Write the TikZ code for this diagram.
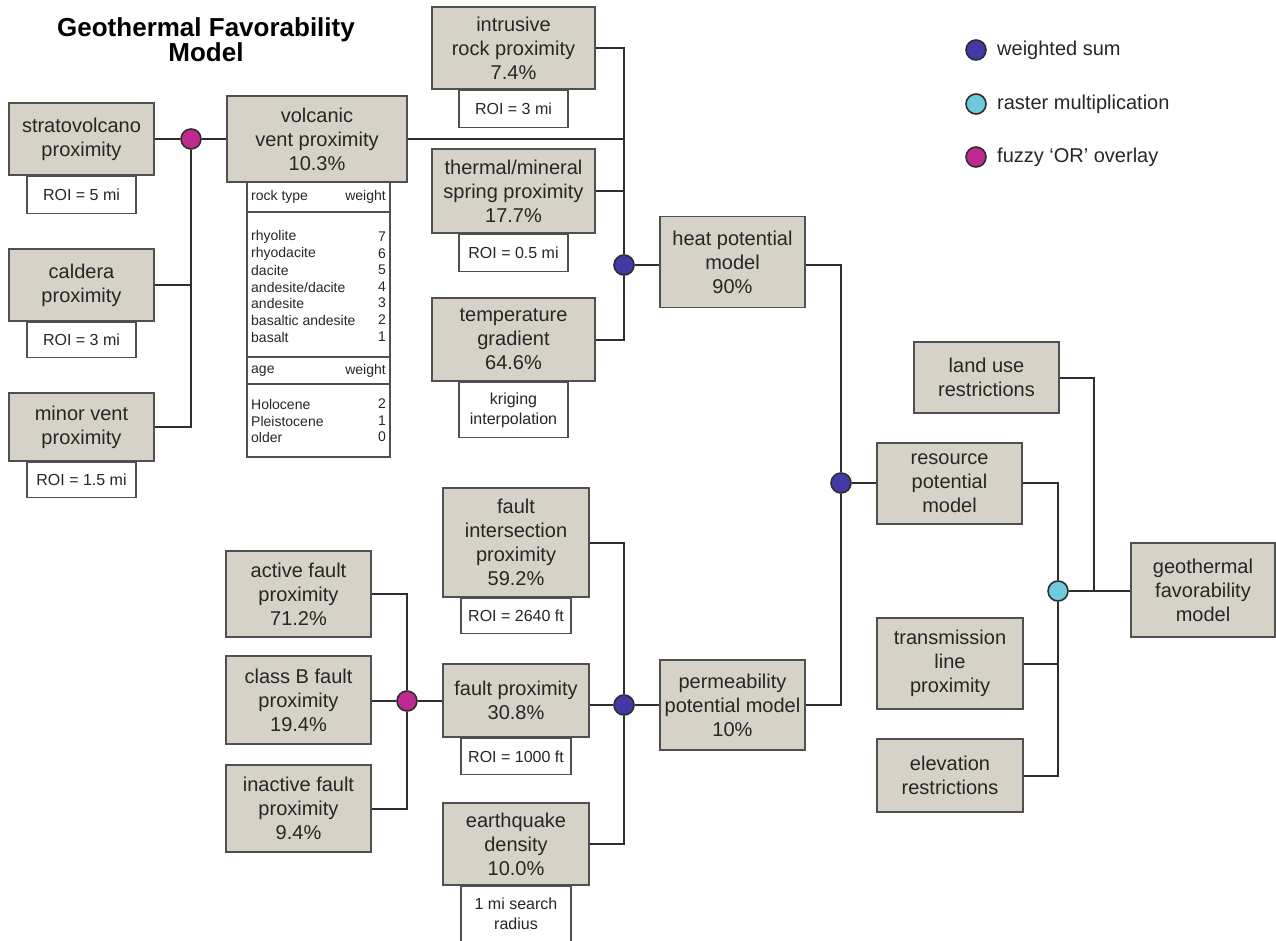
\documentclass[tikz,border=0pt]{standalone}
\usepackage{fontspec}
\setmainfont{Liberation Sans}
\usetikzlibrary{backgrounds}
\definecolor{boxfill}{HTML}{D7D2C7}
\definecolor{boxdraw}{HTML}{505050}
\definecolor{linec}{HTML}{2E2E2E}
\definecolor{wsum}{HTML}{4238A6}
\definecolor{rmult}{HTML}{6DCBDB}
\definecolor{fuzzy}{HTML}{C02A8E}
\definecolor{txt}{HTML}{262626}
\tikzset{
 gbox/.style={draw=boxdraw, fill=boxfill, line width=1.5pt, align=center, inner sep=0pt, text=txt, font=\fontsize{20}{24}\selectfont},
 roibox/.style={draw=boxdraw, fill=white, line width=1.3pt, align=center, inner sep=0pt, text=txt, font=\fontsize{16}{20}\selectfont},
 conn/.style={draw=linec, line width=2pt},
 opnode/.style={circle, draw=linec, line width=1.6pt, minimum size=20pt, inner sep=0pt},
 tabtxt/.style={inner sep=0pt, text=txt, font=\fontsize{14}{16}\selectfont},
 tabline/.style={draw=boxdraw, line width=1.3pt},
 legtxt/.style={anchor=west, inner sep=0pt, text=txt, font=\fontsize{20}{22}\selectfont},
}
\begin{document}
\begin{tikzpicture}[x=1pt, y=-1pt]
\useasboundingbox (0,0) rectangle (1276,941);

% title
\node[align=center, text=black, font=\fontsize{26}{25}\selectfont\bfseries] (title) at (206,40) {Geothermal Favorability\\Model};

% volcanic inputs
\node[gbox, minimum width=145pt, minimum height=72pt] (strato) at (81.5,139) {stratovolcano\\proximity};
\node[roibox, minimum width=109pt, minimum height=37pt, anchor=north] (stratoroi) at (strato.south) {ROI = 5 mi};
\node[gbox, minimum width=145pt, minimum height=72pt] (caldera) at (81.5,285) {caldera\\proximity};
\node[roibox, minimum width=109pt, minimum height=35pt, anchor=north] (calderaroi) at (caldera.south) {ROI = 3 mi};
\node[gbox, minimum width=145pt, minimum height=68pt] (minor) at (81.5,427) {minor vent\\proximity};
\node[roibox, minimum width=109pt, minimum height=35pt, anchor=north] (minorroi) at (minor.south) {ROI = 1.5 mi};

\node[opnode, fill=fuzzy] (fv) at (191,139) {};

\node[gbox, minimum width=180pt, minimum height=86pt] (vent) at (317,139) {volcanic\\vent proximity\\10.3\%};

% rock table
\draw[tabline] (247,182) rectangle (390,457);
\draw[tabline] (247,212) -- (390,212);
\draw[tabline] (247,357) -- (390,357);
\draw[tabline] (247,384) -- (390,384);
\node[tabtxt, anchor=west] (h1) at (251,197) {rock type};
\node[tabtxt, anchor=east] (h1w) at (386,197) {weight};
\foreach \n/\w/\y in {rhyolite/7/237, rhyodacite/6/254, dacite/5/270, andesite\slash dacite/4/287, andesite/3/303, basaltic andesite/2/320, basalt/1/337}{
 \node[tabtxt, anchor=west] at (251,\y) {\n};
 \node[tabtxt, anchor=east] at (386,\y) {\w};
}
\node[tabtxt, anchor=west] (h2) at (251,371) {age};
\node[tabtxt, anchor=east] (h2w) at (386,371) {weight};
\foreach \n/\w/\y in {Holocene/2/404, Pleistocene/1/421, older/0/437}{
 \node[tabtxt, anchor=west] at (251,\y) {\n};
 \node[tabtxt, anchor=east] at (386,\y) {\w};
}

% heat inputs
\node[gbox, minimum width=163pt, minimum height=82pt] (intr) at (513.5,48) {intrusive\\rock proximity\\7.4\%};
\node[roibox, minimum width=109pt, minimum height=37pt, anchor=north] (intrroi) at (intr.south) {ROI = 3 mi};
\node[gbox, minimum width=163pt, minimum height=84pt] (therm) at (513.5,191) {thermal/mineral\\spring proximity\\17.7\%};
\node[roibox, minimum width=109pt, minimum height=37pt, anchor=north] (thermroi) at (therm.south) {ROI = 0.5 mi};
\node[gbox, minimum width=163pt, minimum height=83pt] (temp) at (513.5,339.5) {temperature\\gradient\\64.6\%};
\node[roibox, minimum width=109pt, minimum height=55pt, anchor=north] (krig) at (temp.south) {kriging\\interpolation};

\node[opnode, fill=wsum] (hc) at (624,265) {};
\node[gbox, minimum width=145pt, minimum height=91pt] (heat) at (732.5,262) {heat potential\\model\\90\%};

% fault inputs
\node[gbox, minimum width=145pt, minimum height=86pt] (active) at (298.5,594) {active fault\\proximity\\71.2\%};
\node[gbox, minimum width=145pt, minimum height=88pt] (classb) at (298.5,700) {class B fault\\proximity\\19.4\%};
\node[gbox, minimum width=145pt, minimum height=87pt] (inactive) at (298.5,808.5) {inactive fault\\proximity\\9.4\%};
\node[opnode, fill=fuzzy] (fo) at (407,701) {};

\node[gbox, minimum width=146pt, minimum height=109pt] (fint) at (516,542.5) {fault\\intersection\\proximity\\59.2\%};
\node[roibox, minimum width=110pt, minimum height=35pt, anchor=north] (fintroi) at (fint.south) {ROI = 2640 ft};
\node[gbox, minimum width=146pt, minimum height=73pt] (fault) at (516,700.5) {fault proximity\\30.8\%};
\node[roibox, minimum width=110pt, minimum height=36pt, anchor=north] (faultroi) at (fault.south) {ROI = 1000 ft};
\node[gbox, minimum width=146pt, minimum height=82pt] (eq) at (516,844) {earthquake\\density\\10.0\%};
\node[roibox, minimum width=110pt, minimum height=55pt, anchor=north] (eqroi) at (eq.south) {1 mi search\\radius};

\node[opnode, fill=wsum] (fc) at (624,705) {};
\node[gbox, minimum width=145pt, minimum height=90pt] (perm) at (732.5,705) {permeability\\potential model\\10\%};

% right part
\node[opnode, fill=wsum] (rc) at (841,483) {};
\node[gbox, minimum width=145pt, minimum height=81pt] (res) at (949.5,483.5) {resource\\potential\\model};
\node[gbox, minimum width=145pt, minimum height=71pt] (land) at (986.5,377.5) {land use\\restrictions};
\node[gbox, minimum width=146pt, minimum height=91pt] (trans) at (950,663.5) {transmission\\line\\proximity};
\node[gbox, minimum width=146pt, minimum height=73pt] (elev) at (950,775.5) {elevation\\restrictions};
\node[opnode, fill=rmult] (cc) at (1058,591) {};
\node[gbox, minimum width=144pt, minimum height=94pt] (geo) at (1203,590) {geothermal\\favorability\\model};
\coordinate (lj) at (1094,591);

% legend
\node[opnode, fill=wsum] (l1) at (976,50) {};
\node[legtxt] (l1t) at (997,50) {weighted sum};
\node[opnode, fill=rmult] (l2) at (976,104) {};
\node[legtxt] (l2t) at (997,104) {raster multiplication};
\node[opnode, fill=fuzzy] (l3) at (976,157) {};
\node[legtxt] (l3t) at (997,157) {fuzzy ‘OR’ overlay};

% connectors
\begin{scope}[on background layer]
\draw[conn] (strato.east) -- (fv);
\draw[conn] (fv) -- (vent.west);
\draw[conn] (caldera.east) -- (caldera.east -| fv);
\draw[conn] (minor.east) -| (fv);
\draw[conn] (vent.east) -- (vent.east -| hc);
\draw[conn] (intr.east) -| (hc);
\draw[conn] (therm.east) -| (hc);
\draw[conn] (temp.east) -| (hc);
\draw[conn] (hc) -- (hc -| heat.west);
\draw[conn] (heat.east |- hc) -| (rc);
\draw[conn] (perm.east) -| (rc);
\draw[conn] (rc) -- (rc -| res.west);
\draw[conn] (active.east) -| (fo);
\draw[conn] (classb.east |- fo) -- (fo);
\draw[conn] (inactive.east) -| (fo);
\draw[conn] (fo) -- (fo -| fault.west);
\draw[conn] (fint.east) -| (fc);
\draw[conn] (fault.east |- fc) -- (fc);
\draw[conn] (eq.east) -| (fc);
\draw[conn] (fc) -- (fc -| perm.west);
\draw[conn] (res.east |- rc) -| (cc);
\draw[conn] (trans.east) -| (cc);
\draw[conn] (elev.east) -| (cc);
\draw[conn] (cc) -- (cc -| geo.west);
\draw[conn] (land.east) -| (lj);
\end{scope}
\end{tikzpicture}
\end{document}
